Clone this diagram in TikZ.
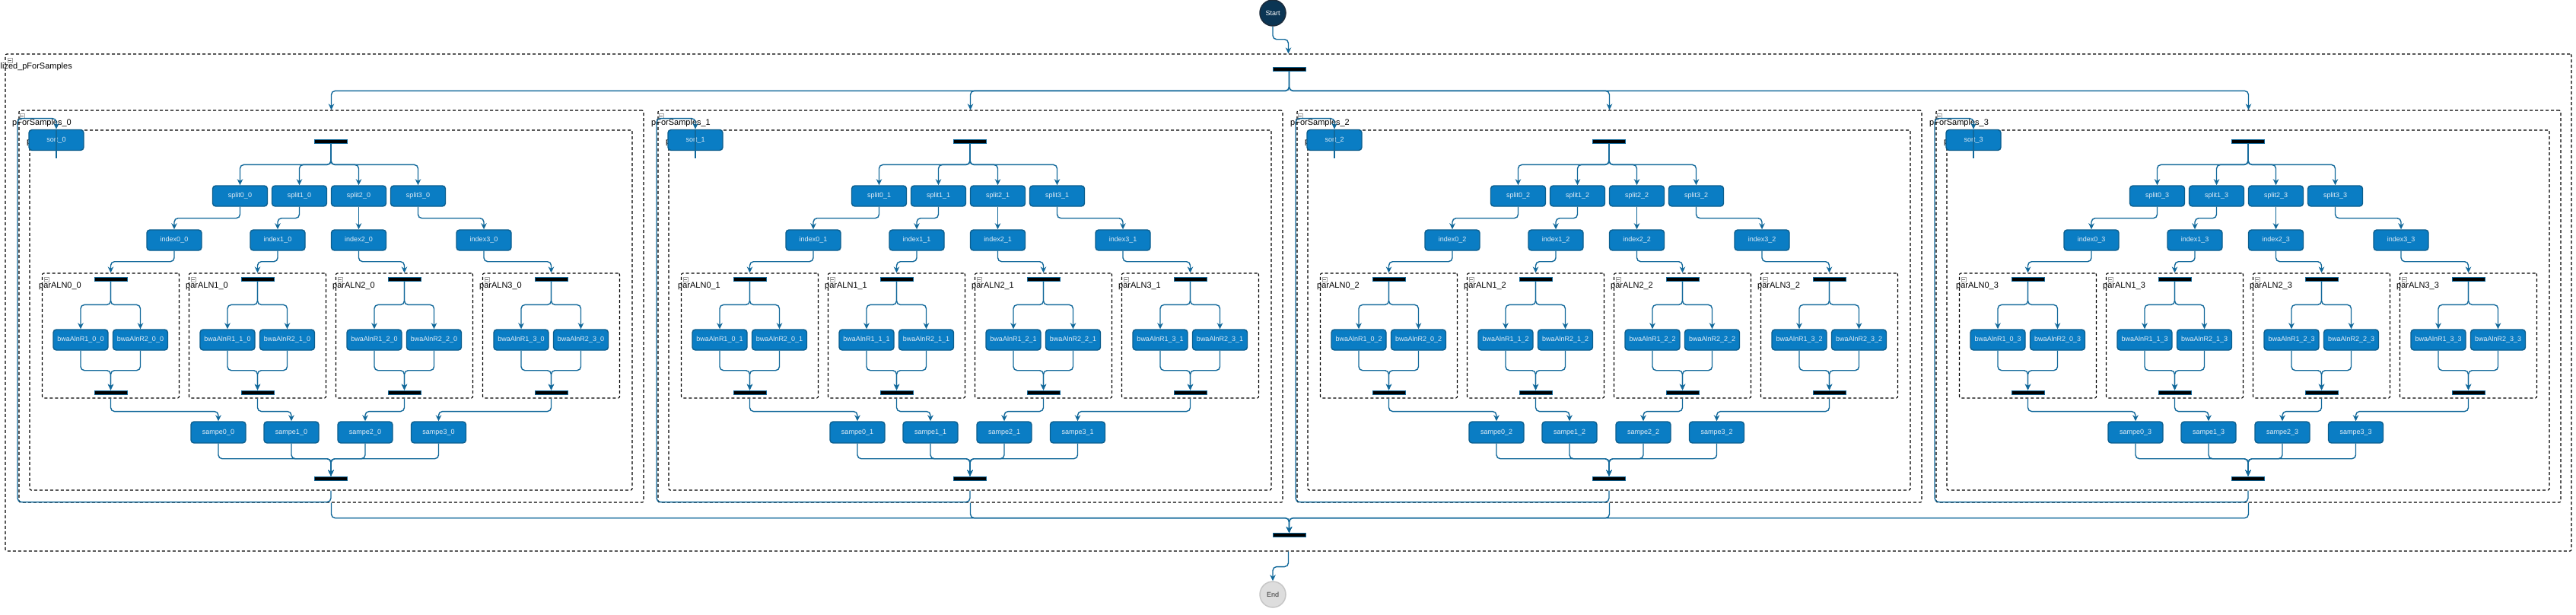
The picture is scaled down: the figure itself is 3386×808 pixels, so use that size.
\documentclass[tikz,border=0pt]{standalone}
\usepackage{fontspec}
\setmainfont{Liberation Sans}
\usetikzlibrary{arrows.meta}

\definecolor{boxfill}{HTML}{0A7DC4}
\definecolor{boxline}{HTML}{0B5E8E}
\definecolor{flowline}{HTML}{11689A}
\definecolor{boxtext}{HTML}{E3EDF6}
\definecolor{startfill}{HTML}{0B3554}
\definecolor{startline}{HTML}{1B2B3B}
\definecolor{endfill}{HTML}{DDDDDD}
\definecolor{endline}{HTML}{C6C6C6}

\tikzset{
  task/.style={rectangle, rounded corners=4pt, draw=boxline, line width=1.4pt, fill=boxfill,
    text=boxtext, minimum width=72pt, minimum height=27pt, inner sep=0pt, font=\fontsize{9}{11}\selectfont},
  bar/.style={rectangle, draw=flowline, fill=black, line width=0.8pt, minimum width=43pt,
    minimum height=5pt, inner sep=0pt},
  group/.style={rectangle, draw, dash pattern=on 4pt off 3pt, line width=1.1pt, rounded corners=2pt, inner sep=0pt},
  grouplabel/.style={font=\fontsize{11}{13}\selectfont, inner sep=0pt, anchor=west},
  fold/.style={rectangle, draw=gray!70, fill=white, line width=0.5pt, minimum size=6pt, inner sep=0pt,
    path picture={\draw[gray!80!black, line width=0.6pt] ([xshift=1.2pt]path picture bounding box.west)
      -- ([xshift=-1.2pt]path picture bounding box.east);}},
  flow/.style={draw=flowline, line width=1.4pt, rounded corners=5pt, -{Stealth[length=8pt,width=7.5pt,inset=2.5pt]}},
  link/.style={draw=flowline, line width=1.4pt},
  terminal/.style={circle, minimum size=34pt, inner sep=0pt, line width=1.5pt, font=\fontsize{9}{11}\selectfont}
}

\begin{document}
\begin{tikzpicture}[x=1pt, y=-1pt]
  \useasboundingbox (0,0) rectangle (3386,808);

  % start, end and the outer parallel block
  \node[terminal, fill=startfill, draw=startline, text=white] (start) at (1673,17) {Start};
  \node[terminal, fill=endfill, draw=endline, text=black!80] (finish) at (1673,781) {End};
  \node[group, minimum width=3373pt, minimum height=653pt] (outer) at (1693.5,397.5) {};
  \node[grouplabel, anchor=east] (outerlbl) at (95,88) {lized\_pForSamples};
  \node[fold] (outerfold) at (13,79) {};
  \node[bar] (tfork) at (1694.5,90.5) {};
  \node[bar] (bjoin) at (1694.5,703) {};

  \draw[flow] (start.south) -- ++(0,17) -| (outer.north);
  \draw[flow] (outer.south) -- ++(0,20) -| (finish.north);

  \foreach \c in {0,...,3}{
    \pgfmathsetmacro{\dx}{840*\c}
    % one sample
    \node[group, minimum width=821pt, minimum height=515pt] (pfs\c) at ({435.5+\dx},402.5) {};
    \node[group, minimum width=792pt, minimum height=473pt] (inner\c) at ({435+\dx},407.5) {};
    \node[grouplabel] (pfslbl\c) at ({16+\dx},162) {pForSamples\_\c};
    \node[fold] (pfsfold\c) at ({29+\dx},152) {};
    \node[grouplabel] (innerlbl\c) at ({35+\dx},188) {p};
    \node[task] (sort\c) at ({74+\dx},184) {sort\_\c};
    \node[bar] (ifork\c) at ({435+\dx},185.5) {};
    \node[bar] (ijoin\c) at ({435+\dx},628.5) {};

    \draw[flow] (tfork.south) -- ++(0,26) -| (pfs\c.north);
    \draw[flow] (pfs\c.south) -- ++(0,20) -| (bjoin.north);
    \draw[flow] (inner\c.south) -- ++(0,15) -- ++(-412,0) -- ++(0,-504) -| (sort\c.north);
    \draw[link] (sort\c.north) -- ++(0,38);

    \foreach \q/\ix/\sx in {0/229/287, 1/365/383, 2/471.5/480, 3/636/576.5}{
      \pgfmathsetmacro{\ax}{145.5+193*\q+\dx}
      \node[task] (split\q-\c) at ({315.5+78*\q+\dx},257.5) {split\q\_\c};
      \node[task] (index\q-\c) at ({\ix+\dx},315.5) {index\q\_\c};
      \node[group, minimum width=180pt, minimum height=164pt] (aln\q-\c) at (\ax,441) {};
      \node[grouplabel] (alnlbl\q-\c) at (\ax-94.5,376) {parALN\q\_\c};
      \node[fold] (alnfold\q-\c) at (\ax-84.5,367) {};
      \node[bar] (afork\q-\c) at (\ax,366.5) {};
      \node[bar] (ajoin\q-\c) at (\ax,515.5) {};
      \node[task] (bwa1-\q-\c) at (\ax-39.5,446.5) {bwaAlnR1\_\q\_\c};
      \node[task] (bwa2-\q-\c) at (\ax+39,446.5) {bwaAlnR2\_\q\_\c};
      \node[task, minimum height=28pt] (sampe\q-\c) at ({\sx+\dx},568) {sampe\q\_\c};

      \draw[flow] (ifork\c.south) -- ++(0,28) -| (split\q-\c.north);
      \draw[flow] (split\q-\c.south) -- ++(0,15) -| (index\q-\c.north);
      \draw[flow] (index\q-\c.south) -- ++(0,14) -| (aln\q-\c.north);
      \draw[flow] (afork\q-\c.south) -- ++(0,31) -| (bwa1-\q-\c.north);
      \draw[flow] (afork\q-\c.south) -- ++(0,31) -| (bwa2-\q-\c.north);
      \draw[flow] (bwa1-\q-\c.south) -- ++(0,26) -| (ajoin\q-\c.north);
      \draw[flow] (bwa2-\q-\c.south) -- ++(0,26) -| (ajoin\q-\c.north);
      \draw[flow] (aln\q-\c.south) -- ++(0,17) -| (sampe\q-\c.north);
      \draw[flow] (sampe\q-\c.south) -- ++(0,20) -| (ijoin\c.north);
    }
  }
\end{tikzpicture}
\end{document}
